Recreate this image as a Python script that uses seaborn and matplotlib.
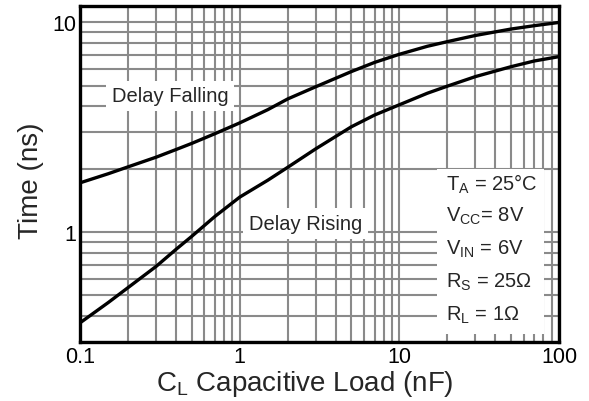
import numpy as np
import pandas as pd
import matplotlib
matplotlib.use("Agg")
import matplotlib.pyplot as plt
import matplotlib.ticker as mticker
from matplotlib.patches import Rectangle
import seaborn as sns

# values (log-log)
load_nf = [0.1, 0.15, 0.2, 0.3, 0.4, 0.5, 0.7, 1, 1.5, 2, 3, 5, 7, 10, 15, 20, 30, 50, 70, 100]
delay_falling = [1.72, 1.90, 2.05, 2.28, 2.48, 2.65, 2.95, 3.32, 3.84, 4.32, 4.94, 5.83, 6.45,
                 7.05, 7.7, 8.1, 8.67, 9.3, 9.65, 10.0]
delay_rising = [0.37, 0.462, 0.545, 0.688, 0.83, 0.955, 1.19, 1.47, 1.77, 2.04, 2.5, 3.18, 3.62,
                4.05, 4.6, 4.97, 5.52, 6.15, 6.55, 6.87]

x_ticks = [0.1, 1, 10, 100]
x_tick_labels = ["0.1", "1", "10", "100"]
y_ticks = [1, 10]
y_tick_labels = ["1", "10"]

conditions = [
    r"T$_{\mathrm{A}}$ = 25°C",
    r"V$_{\mathrm{CC}}$= 8V",
    r"V$_{\mathrm{IN}}$ = 6V",
    r"R$_{\mathrm{S}}$ = 25Ω",
    r"R$_{\mathrm{L}}$ = 1Ω",
]

sns.set_style("white")
plt.rcParams["font.family"] = ["Liberation Sans", "DejaVu Sans"]
plt.rcParams["mathtext.fontset"] = "custom"
plt.rcParams["mathtext.rm"] = "Liberation Sans"

df = pd.DataFrame({
    "load": load_nf * 2,
    "time": delay_falling + delay_rising,
    "curve": ["Delay Falling"] * len(load_nf) + ["Delay Rising"] * len(load_nf),
})

fig = plt.figure(figsize=(5.89, 4.02), dpi=100)
ax = fig.add_axes([0.136, 0.147, 0.813, 0.836])

sns.lineplot(data=df, x="load", y="time", units="curve", estimator=None,
             color="black", linewidth=2.4, ax=ax, zorder=3)

ax.set_xscale("log")
ax.set_yscale("log")
ax.set_xlim(0.1, 100)
ax.set_ylim(0.3, 12)

ax.xaxis.set_major_locator(mticker.FixedLocator(x_ticks))
ax.xaxis.set_major_formatter(mticker.FixedFormatter(x_tick_labels))
ax.yaxis.set_major_locator(mticker.FixedLocator(y_ticks))
ax.yaxis.set_major_formatter(mticker.FixedFormatter(y_tick_labels))
ax.xaxis.set_minor_locator(mticker.LogLocator(base=10, subs=np.arange(2, 10)))
ax.yaxis.set_minor_locator(mticker.LogLocator(base=10, subs=np.arange(2, 10)))
ax.xaxis.set_minor_formatter(mticker.NullFormatter())
ax.yaxis.set_minor_formatter(mticker.NullFormatter())

ax.grid(True, which="both", color="#8a8a8a", linewidth=1.5)
ax.set_axisbelow(True)
ax.tick_params(which="both", length=0, labelsize=15.5, pad=3, colors="black")

for s in ax.spines.values():
    s.set_linewidth(2.4)
    s.set_color("black")

ax.set_xlabel(r"C$_{\mathrm{L}}$ Capacitive Load (nF)", fontsize=20, labelpad=1, x=0.469)
ax.set_ylabel("Time (ns)", fontsize=20, labelpad=6, y=0.482)

box = dict(facecolor="white", edgecolor="none", pad=4)
ax.text(0.365, 4.47, "Delay Falling", fontsize=14.5, ha="center", va="center",
        bbox=box, zorder=4)
ax.text(2.58, 1.10, "Delay Rising", fontsize=14.5, ha="center", va="center",
        bbox=box, zorder=4)

# conditions block
ax.add_patch(Rectangle((0.746, 0.025), 0.223, 0.49, transform=ax.transAxes,
                       facecolor="white", edgecolor="none", zorder=4))
for i, line in enumerate(conditions):
    ax.text(0.765, 0.473 - i * 0.0975, line, transform=ax.transAxes,
            fontsize=14.5, ha="left", va="center", zorder=5)

fig.savefig("out.png", dpi=100)
